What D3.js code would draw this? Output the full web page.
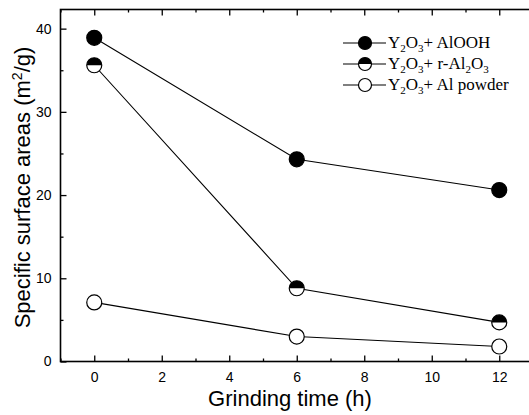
<!DOCTYPE html>
<html><head><meta charset="utf-8">
<script src="https://cdn.jsdelivr.net/npm/d3@7"></script>
<style>body{margin:0;background:#fff}svg{display:block}</style>
</head><body>
<svg id="c" width="529" height="415"></svg>
<script>
const times = [0, 6, 12];
const alooh = [38.9, 24.3, 20.6];
const ralo = [35.6, 8.8, 4.7];
const alpow = [7.1, 3.0, 1.8];
const xTicks = [0, 2, 4, 6, 8, 10, 12];
const yTicks = [0, 10, 20, 30, 40];

const svg = d3.select("#c");
const x = d3.scaleLinear().domain([-1, 13]).range([60.5, 533]);
const y = d3.scaleLinear().domain([0, 42.3]).range([361.5, 9.5]);
const bodyFont = "Arial, 'Liberation Sans', sans-serif";

// frame
svg.append("rect").attr("x", x(-1)).attr("y", y(42.3)).attr("width", x(13) - x(-1)).attr("height", y(0) - y(42.3))
  .attr("fill", "none").attr("stroke", "#000").attr("stroke-width", 1.6);

// x axis (ticks inward)
svg.append("g").attr("transform", `translate(0,${y(0)})`)
  .call(d3.axisBottom(x).tickValues(xTicks).tickSize(-6).tickPadding(11).tickFormat(d3.format("d")));
svg.append("g").attr("transform", `translate(0,${y(0)})`)
  .call(d3.axisBottom(x).tickValues(d3.range(-1, 14, 2)).tickSize(-3).tickFormat(""));
svg.append("g").attr("transform", `translate(0,${y(42.3)})`)
  .call(d3.axisTop(x).tickValues(xTicks).tickSize(-6).tickFormat(""));
svg.append("g").attr("transform", `translate(0,${y(42.3)})`)
  .call(d3.axisTop(x).tickValues(d3.range(-1, 14, 2)).tickSize(-3).tickFormat(""));
// y axis
svg.append("g").attr("transform", `translate(${x(-1)},0)`)
  .call(d3.axisLeft(y).tickValues(yTicks).tickSize(-6).tickPadding(9).tickFormat(d3.format("d")));
svg.append("g").attr("transform", `translate(${x(-1)},0)`)
  .call(d3.axisLeft(y).tickValues([5, 15, 25, 35]).tickSize(-3).tickFormat(""));
svg.selectAll(".domain").remove();
svg.selectAll(".tick line").attr("stroke", "#000").attr("stroke-width", 1.3);
svg.selectAll(".tick text").attr("font-family", bodyFont).attr("font-size", 14).attr("fill", "#000");

// axis titles
svg.append("text").attr("x", x(5.8)).attr("y", 406).attr("text-anchor", "middle")
  .attr("font-family", bodyFont).attr("font-size", 22).text("Grinding time (h)");
const yt = svg.append("text").attr("transform", `translate(30,${(y(0) + y(42.3)) / 2 + 2}) rotate(-90)`)
  .attr("text-anchor", "middle").attr("font-family", bodyFont).attr("font-size", 22);
yt.append("tspan").text("Specific surface areas (m");
yt.append("tspan").attr("baseline-shift", "super").attr("font-size", 14).text("2");
yt.append("tspan").text("/g)");

const series = [
  { vals: alooh, style: "full" },
  { vals: ralo, style: "half" },
  { vals: alpow, style: "open" }
];
const r = 7.5;
const line = d3.line().x((d, i) => x(times[i])).y(d => y(d));

function marker(g, cx, cy, style, rr) {
  const rad = rr || r;
  if (style === "full") {
    g.append("circle").attr("cx", cx).attr("cy", cy).attr("r", rad).attr("fill", "#000").attr("stroke", "#000").attr("stroke-width", 1.2);
  } else if (style === "open") {
    g.append("circle").attr("cx", cx).attr("cy", cy).attr("r", rad).attr("fill", "#fff").attr("stroke", "#000").attr("stroke-width", 1.2);
  } else {
    g.append("circle").attr("cx", cx).attr("cy", cy).attr("r", rad).attr("fill", "#fff").attr("stroke", "#000").attr("stroke-width", 1.2);
    g.append("path").attr("d", `M${cx - rad},${cy} A${rad},${rad} 0 0 1 ${cx + rad},${cy} Z`).attr("fill", "#000");
  }
}

series.forEach(s => {
  svg.append("path").datum(s.vals).attr("d", line).attr("fill", "none").attr("stroke", "#000").attr("stroke-width", 1.1);
  const g = svg.append("g");
  s.vals.forEach((v, i) => marker(g, x(times[i]), y(v), s.style));
});

// legend
const serif = "'Liberation Serif', 'Times New Roman', serif";
const legRows = [
  { style: "full", parts: [["Y", 0], ["2", 1], ["O", 0], ["3", 1], ["+ AlOOH", 0]] },
  { style: "half", parts: [["Y", 0], ["2", 1], ["O", 0], ["3", 1], ["+ r-Al", 0], ["2", 1], ["O", 0], ["3", 1]] },
  { style: "open", parts: [["Y", 0], ["2", 1], ["O", 0], ["3", 1], ["+ Al powder", 0]] }
];
legRows.forEach((row, i) => {
  const cy = 43 + i * 21;
  svg.append("line").attr("x1", 343).attr("x2", 386).attr("y1", cy).attr("y2", cy).attr("stroke", "#000").attr("stroke-width", 1.1);
  marker(svg.append("g"), 365, cy, row.style, 6.5);
  const t = svg.append("text").attr("x", 388).attr("y", cy + 5).attr("font-family", serif).attr("font-size", 17);
  row.parts.forEach((p, j) => {
    const prev = j > 0 ? row.parts[j - 1][1] : 0;
    const ts = t.append("tspan").text(p[0])
      .attr("dy", p[1] && !prev ? 4 : (!p[1] && prev ? -4 : 0));
    if (p[1]) ts.attr("font-size", 11);
  });
});
</script>
</body></html>
